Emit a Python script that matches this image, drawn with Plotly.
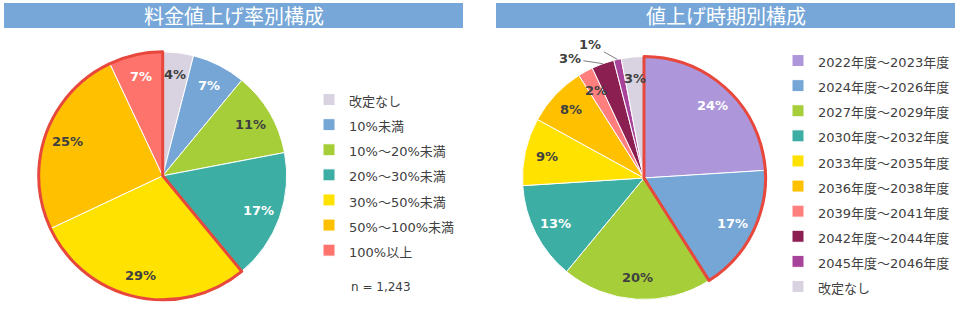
import math
import plotly.graph_objects as go

W, H = 959, 313

# ---------------- data ----------------
rate_title = "料金値上げ率別構成"
rate_labels = ["改定なし", "10%未満", "10%～20%未満", "20%～30%未満",
               "30%～50%未満", "50%～100%未満", "100%以上"]
rate_values = [4, 7, 11, 17, 29, 25, 7]
rate_colors = ["#D9D3E1", "#75A6D6", "#A6CE39", "#3DAEA4",
               "#FFE200", "#FFC000", "#FF736D"]
rate_text_dark = [True, False, True, False, True, True, False]
rate_highlight = [False, False, False, False, True, True, True]
rate_n = "n = 1,243"

period_title = "値上げ時期別構成"
period_labels = ["2022年度～2023年度", "2024年度～2026年度", "2027年度～2029年度",
                 "2030年度～2032年度", "2033年度～2035年度", "2036年度～2038年度",
                 "2039年度～2041年度", "2042年度～2044年度", "2045年度～2046年度",
                 "改定なし"]
period_values = [24, 17, 20, 13, 9, 8, 2, 3, 1, 3]
period_colors = ["#AD97DA", "#75A6D6", "#A6CE39", "#3DAEA4", "#FFE200",
                 "#FFC000", "#FF7F7F", "#8B1F52", "#A8439B", "#D9D3E1"]
period_text_dark = [False, False, True, False, True, True, True, True, True, True]
period_highlight = [True, True, False, False, False, False, False, False, False, False]
period_outside = [False, False, False, False, False, False, False, True, True, False]
period_outside_offset = {7: (-33, -5), 8: (-27, -15)}

# ---------------- style ----------------
DARK = "#404040"
WHITE = "#FFFFFF"
RED = "#E8473C"
BAR = "#76A7D8"
LABEL_FONT = "DejaVu Sans, Noto Sans CJK JP"
TEXT_FONT = "DejaVu Sans, Noto Sans CJK JP"
TITLE_FONT = "Noto Sans CJK JP"

# pie geometry (pixels)
LEFT = dict(cx=162.7, cy=175.8, r=124.0)
RIGHT = dict(cx=644.0, cy=178.0, r=121.5)
LABEL_FRAC = 0.82


def domain(g):
    return dict(x=[(g["cx"] - g["r"]) / W, (g["cx"] + g["r"]) / W],
                y=[(H - g["cy"] - g["r"]) / H, (H - g["cy"] + g["r"]) / H])


def runs(values, flags):
    out = []
    for v, f in zip(values, flags):
        if out and out[-1][0] == f:
            out[-1][1] += v
        else:
            out.append([f, v])
    return out


def legend_label(s, legend):
    # distinct markup per legend so identical category names are not merged
    style = "font-size:13px" if legend == "legend" else "font-size:13px;"
    return "<span style='" + style + "'>" + s + "</span>"


fig = go.Figure()


def add_pie(labels, values, colors, highlight, g, legend):
    fig.add_trace(go.Pie(
        labels=[legend_label(s, legend) for s in labels], values=values, sort=False,
        direction="clockwise", rotation=0, domain=domain(g),
        marker=dict(colors=colors, line=dict(color="white", width=1)),
        textinfo="none", hoverinfo="label+percent", legend=legend,
    ))
    rr = runs(values, highlight)
    fig.add_trace(go.Pie(
        labels=["g%d_%s" % (i, legend) for i in range(len(rr))],
        values=[v for _, v in rr], sort=False,
        direction="clockwise", rotation=0, domain=domain(g),
        marker=dict(colors=["rgba(0,0,0,0)"] * len(rr),
                    line=dict(color=[RED if f else "rgba(0,0,0,0)" for f, _ in rr],
                              width=[3 if f else 0 for f, _ in rr])),
        textinfo="none", hoverinfo="skip", showlegend=False,
    ))


add_pie(rate_labels, rate_values, rate_colors, rate_highlight, LEFT, "legend")
add_pie(period_labels, period_values, period_colors, period_highlight, RIGHT, "legend2")

annotations = []
shapes = []


def add_labels(values, dark, g, outside=None, offsets=None):
    total = float(sum(values))
    cum = 0.0
    for i, v in enumerate(values):
        theta = math.radians(360.0 * (cum + v / 2.0) / total)
        cum += v
        color = DARK if dark[i] else WHITE
        txt = "%d%%" % v
        if outside and outside[i]:
            px = g["cx"] + g["r"] * math.sin(theta)
            py = g["cy"] - g["r"] * math.cos(theta)
            ax, ay = offsets[i]
            annotations.append(dict(
                x=px / W, y=1 - py / H, xref="paper", yref="paper", text=txt,
                showarrow=True, arrowhead=0, arrowwidth=1, arrowcolor="#808080",
                ax=ax, ay=ay, standoff=0, startstandoff=1,
                font=dict(family=LABEL_FONT, size=13, color=color, weight="bold")))
        else:
            d = LABEL_FRAC * g["r"]
            px = g["cx"] + d * math.sin(theta)
            py = g["cy"] - d * math.cos(theta)
            annotations.append(dict(
                x=px / W, y=1 - py / H, xref="paper", yref="paper", text=txt,
                showarrow=False, xanchor="center", yanchor="middle",
                font=dict(family=LABEL_FONT, size=13, color=color, weight="bold")))


add_labels(rate_values, rate_text_dark, LEFT)
add_labels(period_values, period_text_dark, RIGHT, period_outside, period_outside_offset)

# title bars
for (x0, x1, title) in [(4, 463, rate_title), (496, 955, period_title)]:
    shapes.append(dict(type="rect", xref="paper", yref="paper",
                       x0=x0 / W, x1=x1 / W, y0=1 - 28 / H, y1=1 - 3 / H,
                       fillcolor=BAR, line=dict(width=0), layer="below"))
    annotations.append(dict(x=(x0 + x1) / 2 / W, y=1 - 15.5 / H, xref="paper", yref="paper",
                            text=title, showarrow=False, xanchor="center", yanchor="middle",
                            font=dict(family=TITLE_FONT, size=20, color="white")))

annotations.append(dict(x=349 / W, y=1 - 287 / H, xref="paper", yref="paper", text=rate_n,
                        showarrow=False, xanchor="left", yanchor="middle",
                        font=dict(family=TEXT_FONT, size=12, color=DARK)))

legend_common = dict(xanchor="left", yanchor="top", bgcolor="rgba(0,0,0,0)",
                     font=dict(family=TEXT_FONT, size=17, color=DARK),
                     borderwidth=0, itemclick=False, itemdoubleclick=False)

fig.update_layout(
    width=W, height=H,
    margin=dict(l=0, r=0, t=0, b=0, pad=0, autoexpand=False),
    paper_bgcolor="white", plot_bgcolor="white",
    legend=dict(x=309 / W, y=1 - 82 / H, **legend_common),
    legend2=dict(x=778 / W, y=1 - 43 / H, **legend_common),
    annotations=annotations, shapes=shapes,
)

fig.write_html("out.html")
